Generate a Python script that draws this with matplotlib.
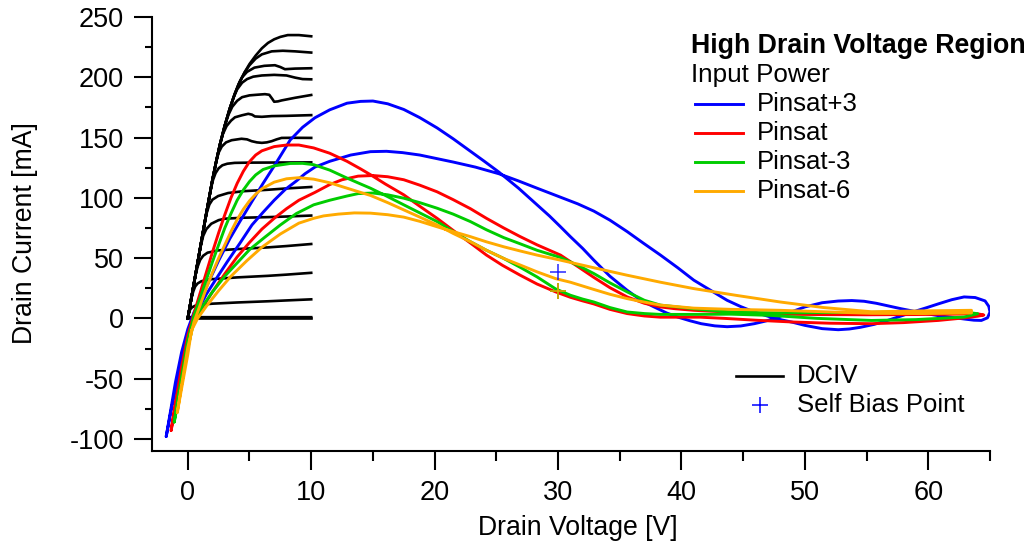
import matplotlib
matplotlib.use("Agg")
import matplotlib.pyplot as plt
from matplotlib.ticker import MultipleLocator

plt.rcParams['font.family'] = ['Liberation Sans', 'DejaVu Sans']
plt.rcParams['axes.unicode_minus'] = False

# ---------------- DC-IV output characteristics (V, mA) ----------------
dciv_v = [
    [0, 0.5, 1.0, 1.5, 2.0, 2.3, 2.6, 3.0, 3.4, 3.8, 4.2, 4.6, 5.0, 5.5, 6.0, 6.5, 7.0, 7.5, 8.1, 9.0, 10.0],
    [0, 0.5, 1.0, 1.5, 2.0, 2.3, 2.6, 3.0, 3.4, 3.8, 4.2, 4.6, 5.0, 5.5, 6.0, 6.8, 7.7, 8.7, 10.0],
    [0, 0.5, 1.0, 1.5, 2.0, 2.3, 2.6, 3.0, 3.4, 3.8, 4.1, 4.4, 4.8, 5.4, 6.2, 7.06, 7.5, 7.87, 8.69, 10.0],
    [0, 0.5, 1.0, 1.5, 2.0, 2.3, 2.6, 3.0, 3.4, 3.7, 4.0, 4.4, 4.8, 5.3, 6.0, 7.0, 8.0, 8.7, 9.3, 10.0],
    [0, 0.5, 1.0, 1.5, 2.0, 2.3, 2.6, 3.0, 3.3, 3.6, 4.0, 4.4, 5.0, 5.6, 6.25, 6.6, 6.85, 7.0, 7.3, 7.6, 8.7, 10.0],
    [0, 0.5, 1.0, 1.5, 2.0, 2.3, 2.6, 2.85, 3.14, 3.5, 3.82, 4.4, 4.9, 5.2, 5.44, 6.0, 6.8, 8.0, 10.0],
    [0, 0.5, 1.0, 1.5, 2.0, 2.3, 2.5, 2.75, 3.1, 3.55, 4.35, 4.8, 5.17, 5.6, 6.0, 6.4, 6.8, 7.2, 7.6, 8.5, 10.0],
    [0, 0.5, 1.0, 1.5, 1.85, 2.05, 2.25, 2.5, 2.8, 3.2, 3.8, 5.0, 10.0],
    [0, 0.5, 1.0, 1.4, 1.55, 1.75, 2.0, 2.46, 3.27, 4.5, 6.5, 8.0, 10.0],
    [0, 0.5, 0.9, 1.05, 1.25, 1.5, 1.9, 2.5, 3.0, 4.5, 6.5, 8.0, 10.0],
    [0, 0.5, 0.65, 0.8, 1.0, 1.25, 1.6, 2.46, 4.0, 6.5, 8.0, 10.0],
    [0, 0.3, 0.45, 0.6, 0.8, 1.1, 1.5, 1.92, 4.0, 6.5, 8.0, 10.0],
    [0, 0.1, 0.2, 0.35, 0.6, 0.9, 2.0, 4.0, 6.5, 8.0, 10.0],
    [0, 0.1, 10.0],
    [0, 10.0],
]
dciv_i = [
    [0, 29, 58, 87, 115, 130, 144, 160, 174, 186, 196, 204, 211, 218, 224, 228.5, 231.5, 233.5, 235, 235, 234],
    [0, 29, 58, 87, 115, 130, 144, 160, 174, 186, 196, 204, 210, 215.5, 219, 221.5, 222, 221.5, 220.5],
    [0, 29, 58, 87, 115, 130, 144, 160, 174, 186, 194, 200, 204.5, 208, 209.5, 210, 208.5, 206.7, 207.2, 207.5],
    [0, 29, 58, 87, 115, 130, 144, 160, 174, 183, 190, 195.5, 198.5, 200.5, 201.5, 202, 201.5, 199.7, 198.5, 198.3],
    [0, 29, 58, 87, 115, 130, 144, 160, 169, 175.5, 180.5, 183.5, 185, 185.5, 186, 185.5, 182, 179.7, 180, 180.8, 183, 185.3],
    [0, 29, 58, 87, 115, 130, 144, 153, 159.5, 164, 166.8, 168.5, 169.7, 169, 167.5, 167.2, 167.8, 168, 168.6],
    [0, 29, 58, 87, 115, 130, 137.5, 142.5, 146, 147.8, 149, 148.5, 147, 146, 145.6, 146, 147, 148.5, 149.7, 149.8, 149.7],
    [0, 29, 58, 87, 106.6, 115, 120.5, 124.5, 127, 128.3, 129, 129.2, 129.4],
    [0, 29, 58, 81, 88, 94.5, 98.5, 101.5, 104, 105.5, 106.7, 107.8, 109.0],
    [0, 29, 52, 60, 68.5, 74, 78.5, 81.5, 82.7, 83.5, 84, 84.5, 85.3],
    [0, 29, 37, 43, 48.5, 52, 54.5, 56.4, 57.5, 58.9, 60, 61.7],
    [0, 17, 22.5, 26.5, 29, 30.8, 31.8, 32.5, 34, 35.3, 36.3, 37.8],
    [0, 5, 7.5, 9.2, 10.5, 11.3, 12.2, 13.2, 14.2, 14.9, 15.8],
    [0, 1.0, 1.0],
    [0, 0],
]

# ---------------- RF load-line loops (V, mA) ----------------
# Pinsat+3
p3_v = [-1.75, -1.4, -1.0, -0.5, 0.0, 0.5, 1.0, 1.5, 2.0, 2.5, 3.4, 4.2, 5.2, 6.1, 7.1, 8.3, 9.3,
        10.3, 11.5, 12.9, 14.0, 15.0, 16.2, 17.5, 18.8, 20.2, 21.5, 22.9, 24.0, 25.2, 26.8, 28.3,
        29.3, 30.2, 31.0, 32.0, 32.9, 34.2, 35.6, 36.8, 37.8, 38.8, 39.7, 40.7, 41.6, 42.7, 43.7,
        44.8, 45.9, 46.7, 47.5, 48.8, 50.0, 51.4, 52.7, 53.8, 54.8, 55.8, 56.7, 57.8, 58.9, 59.9,
        60.8, 61.9, 62.9, 63.7, 64.3, 64.8, 65.0, 64.9, 64.6, 63.8, 62.9, 61.9, 60.8, 59.9, 58.9,
        57.8, 56.7, 55.6, 54.5, 53.6, 52.7, 51.4, 50.0, 49.0, 48.1, 47.0, 45.9, 44.8, 43.7, 42.4,
        41.0, 39.7, 38.3, 36.9, 35.6, 34.2, 32.9, 31.6, 30.2, 28.3, 26.8, 25.2, 23.3, 21.5, 20.2,
        18.8, 17.4, 16.1, 14.8, 13.2, 11.5, 10.3, 9.5, 8.8, 7.9, 7.0, 6.1, 5.2, 4.2, 3.2, 2.5, 1.5,
        1.0, 0.5, 0.0, -0.5, -1.0, -1.4, -1.75]
p3_i = [-98, -77, -53, -28, -9, 5, 15, 26, 37, 48, 66, 80, 97, 112, 128, 148, 158.5,
        166.4, 173, 178.5, 180, 180.3, 178, 173.3, 166.5, 158, 149, 138.6, 130.5, 121.4, 108, 94.2,
        85, 76, 67.8, 58, 48.3, 35, 23.3, 14.5, 9.4, 4.5, 1.1, -2, -4.4, -6.2, -6.9,
        -6.3, -4.4, -2.5, -0.3, 5, 9.5, 13, 14.4, 14.8, 14.2, 12.5, 10.5, 8, 5.8, 3.8,
        2.3, 0.8, -0.5, -1.5, -1.7, 0.5, 5.3, 10, 14.5, 17.3, 17.8, 15.5, 12, 9, 5.8,
        2, -1.7, -5, -7.4, -8.8, -9.4, -8.5, -5.8, -3.2, -1.2, 1.8, 5.3, 9.8, 15, 23,
        31.7, 42, 52.5, 62.5, 72, 81.5, 89, 95, 100.5, 108, 114, 120, 125.5, 129.7, 132.5,
        135.5, 137.5, 138.6, 138.3, 135.5, 130.3, 125.5, 120, 114, 107, 98, 88, 77.5, 62, 47, 36, 20,
        10, 0, -13, -35, -59, -79, -98]

# Pinsat
p0_v = [-1.35, -1.0, -0.5, 0.0, 0.5, 1.0, 1.5, 2.0, 2.5, 3.0, 3.5, 4.0, 4.5, 5.0, 5.5, 6.0, 7.0,
        8.0, 9.0, 10.2, 11.5, 12.9, 14.0, 14.8, 16.0, 17.5, 18.8, 20.2, 21.5, 22.9, 24.2, 25.5,
        26.9, 28.3, 29.8, 31.0, 32.0, 32.9, 34.2, 35.6, 37.0, 38.3, 40.0, 41.5, 43.5, 46.0, 49.0,
        52.0, 55.4, 58.0, 60.8, 62.8, 64.0, 64.5, 64.0, 62.0, 59.0, 55.0, 51.0, 48.0, 46.4, 43.7,
        41.0, 39.5, 38.3, 37.0, 35.6, 34.2, 32.9, 31.6, 30.2, 28.3, 26.9, 25.6, 24.2, 22.9, 21.5,
        20.2, 18.8, 17.5, 16.2, 15.0, 13.8, 12.5, 11.5, 10.3, 9.0, 8.0, 7.0, 6.0, 5.0, 4.0, 3.0,
        2.0, 1.0, 0.5, 0.0, -0.5, -1.0, -1.35]
p0_i = [-93, -70, -40, -14, 4, 21, 38, 55, 71, 86, 100, 112, 122, 130, 135.5, 139, 142.5,
        143.8, 143.8, 141.4, 137, 130.3, 124, 119.2, 111.5, 102.5, 93, 83, 73, 62.5, 52.5, 44,
        36, 28.5, 22, 17.5, 14.5, 12, 7.5, 4, 2, 1, 1, 1, 0, -1.5, -3,
        -4, -4.4, -3.5, -1.7, 0.3, 1.8, 2.8, 3.8, 3.5, 3.2, 3.0, 3.2, 3.5, 3.9, 5.3,
        6.7, 8, 9.5, 12.5, 17.8, 25.5, 34, 43, 52.5, 61, 68, 75, 83, 91, 98.5,
        105, 110.5, 115, 117.5, 118.5, 118, 115, 111, 104.5, 98, 91, 83, 74, 63, 51, 37,
        22, 6, -3, -20, -46, -72, -93]

# Pinsat-3
m3_v = [-1.1, -0.8, -0.4, 0.0, 0.5, 1.0, 1.5, 2.0, 2.5, 3.0, 3.5, 4.0, 4.5, 5.0, 5.5, 6.1, 7.0,
        8.3, 9.3, 10.2, 11.5, 12.9, 14.0, 14.8, 16.0, 17.5, 18.8, 20.2, 21.5, 22.9, 24.2, 25.6,
        27.0, 28.3, 29.8, 31.0, 32.0, 32.9, 34.2, 35.6, 37.0, 38.3, 41.0, 44.0, 47.2, 51.0, 55.4,
        59.0, 62.9, 64.0, 63.0, 60.0, 55.0, 51.0, 48.0, 45.0, 43.7, 41.0, 38.3, 37.0, 35.6, 34.2,
        32.9, 31.6, 30.2, 28.3, 26.9, 25.6, 24.2, 22.9, 21.5, 20.2, 18.8, 17.5, 16.2, 15.0, 13.8,
        12.9, 11.5, 10.2, 8.8, 7.5, 6.2, 5.0, 4.0, 3.0, 2.0, 1.0, 0.5, 0.0, -0.4, -0.8, -1.1]
m3_i = [-86, -66, -42, -18, 2, 17, 32, 47, 61, 75, 87, 98, 106.5, 113.5, 119, 123.5, 126.5,
        128.5, 128.6, 127.5, 123, 116.4, 111.5, 108, 102, 94.2, 87.5, 80.3, 72, 63.6, 56.5, 49.7,
        42, 34.4, 24.5, 19.2, 16, 13.6, 9, 5.3, 4, 3.3, 3.3, 3.5, 2.5, 0, -1.7,
        -1, 1.1, 3.9, 5.2, 5.3, 5.0, 4.8, 4.5, 5.0, 5.5, 8, 11, 15, 22, 29.5,
        37.2, 44, 50.5, 56.5, 62, 67, 73.5, 80.3, 86.5, 91.4, 96, 99.7, 102.5, 104, 103.5,
        101.5, 98, 94.2, 87, 77.5, 67, 57, 46, 35, 22, 7, -2, -25, -48, -70, -86]

# Pinsat-6
m6_v = [-0.85, -0.5, 0.0, 0.5, 1.0, 1.5, 2.0, 2.5, 3.0, 3.5, 4.0, 4.5, 5.0, 5.5, 6.0, 7.0, 8.0,
        9.0, 10.2, 11.5, 12.9, 14.0, 14.8, 16.2, 17.5, 18.8, 20.2, 21.5, 22.9, 24.2, 25.6, 27.0,
        28.3, 29.8, 31.0, 32.9, 34.2, 35.6, 37.0, 38.3, 41.0, 44.0, 48.0, 51.5, 55.4, 59.5, 63.5,
        63.5, 59.5, 55.4, 51.5, 48.0, 44.5, 41.0, 38.3, 35.6, 32.9, 30.2, 28.3, 26.9, 25.6, 24.2,
        22.9, 21.5, 20.2, 18.8, 17.5, 16.2, 14.8, 13.5, 12.2, 11.0, 10.2, 9.0, 7.5, 6.0, 4.8, 3.5,
        2.5, 1.5, 0.8, 0.3, 0.0, -0.5, -0.85]
m6_i = [-78, -55, -24, -3, 11, 25, 38, 50, 61, 72, 82, 90.5, 97.5, 103, 107.5, 113, 115.8,
        116.7, 115.5, 112.5, 108, 104.5, 102, 96, 90, 84, 77.5, 70.5, 63.6, 56.5, 49.7, 44,
        38.6, 33, 30, 24, 20, 16.4, 13.5, 11, 8.5, 7.5, 6.7, 5.5, 4.2, 4, 4.5,
        6.7, 6.2, 5.5, 9, 13.6, 19, 24.7, 30, 35.8, 42, 48.3, 52.5, 56, 59.4, 63.5,
        67.8, 72, 76, 80.5, 84, 86, 87.3, 87.5, 86.5, 85, 83, 79, 70, 59, 48, 35,
        23, 10, 0, -10, -30, -58, -78]

series_names = ["Pinsat+3", "Pinsat", "Pinsat-3", "Pinsat-6"]
series_colors = ["#0000ff", "#ff0000", "#00cc00", "#ffaa00"]

# Self-bias (quiescent) points
bias_v = [30.0, 30.0, 30.0, 30.0]
bias_i = [38.5, 22.5, 23.0, 23.0]

fig = plt.figure(figsize=(10.36, 5.5), dpi=100)
W, H = 1036.0, 550.0
ax = fig.add_axes([152 / W, 1 - 451 / H, (990 - 152) / W, (451 - 17) / H])

for v, i in zip(dciv_v, dciv_i):
    ax.plot(v, i, color="black", lw=1.9, solid_joinstyle="round", zorder=2)

loops = [(p3_v, p3_i), (p0_v, p0_i), (m3_v, m3_i), (m6_v, m6_i)]
for (v, i), c in zip(loops, series_colors):
    ax.plot(v, i, color=c, lw=2.1, solid_joinstyle="round", solid_capstyle="round", zorder=3)

for v, i, c in zip(bias_v, bias_i, series_colors):
    ax.plot([v], [i], marker="+", color=c, ms=12, mew=1.1, ls="none", alpha=0.85, zorder=4)

ax.set_xlim(-2.9, 65)
ax.set_ylim(-110, 250)
ax.spines["top"].set_visible(False)
ax.spines["right"].set_visible(False)
for s in ("left", "bottom"):
    ax.spines[s].set_linewidth(1.5)

ax.xaxis.set_major_locator(MultipleLocator(10))
ax.xaxis.set_minor_locator(MultipleLocator(5))
ax.yaxis.set_major_locator(MultipleLocator(50))
ax.yaxis.set_minor_locator(MultipleLocator(25))
ax.tick_params(axis="x", which="major", length=14, width=1.5, pad=7, labelsize=19.5)
ax.tick_params(axis="x", which="minor", length=7, width=1.5)
ax.tick_params(axis="y", which="major", length=13, width=1.5, pad=7, labelsize=19.5)
ax.tick_params(axis="y", which="minor", length=5, width=1.5)

ax.set_xlabel("Drain Voltage [V]", fontsize=19.2)
ax.set_ylabel("Drain Current [mA]", fontsize=19.2)
ax.xaxis.set_label_coords((577.5 - 152) / (990 - 152), (451 - 528) / (451 - 17), transform=ax.transAxes)
ax.xaxis.label.set_va("center")
ax.yaxis.set_label_coords((25 - 152) / (990 - 152), (451 - 233) / (451 - 17), transform=ax.transAxes)
ax.yaxis.label.set_va("center")

# Legend block (upper right)
def fx(px):
    return px / W

def fy(py):
    return 1 - py / H

fig.text(fx(691), fy(46), "High Drain Voltage Region", fontsize=19.3, fontweight="bold",
         va="center", ha="left")
fig.text(fx(691), fy(75), "Input Power", fontsize=18.7, va="center", ha="left")
for k, (name, c) in enumerate(zip(series_names, series_colors)):
    y = 104 + 29 * k
    fig.add_artist(plt.Line2D([fx(695), fx(743)], [fy(y), fy(y)], color=c, lw=2.1))
    fig.text(fx(757), fy(y), name, fontsize=18.5, va="center", ha="left")

# Legend block (lower right)
fig.add_artist(plt.Line2D([fx(736), fx(783)], [fy(376), fy(376)], color="black", lw=1.9))
fig.text(fx(797), fy(376), "DCIV", fontsize=18.5, va="center", ha="left")
fig.add_artist(plt.Line2D([fx(760)], [fy(405)], marker="+", color="#0000ff", ms=12, mew=1.1,
                          ls="none"))
fig.text(fx(797), fy(405), "Self Bias Point", fontsize=18.5, va="center", ha="left")

fig.savefig("out.png", dpi=100)
